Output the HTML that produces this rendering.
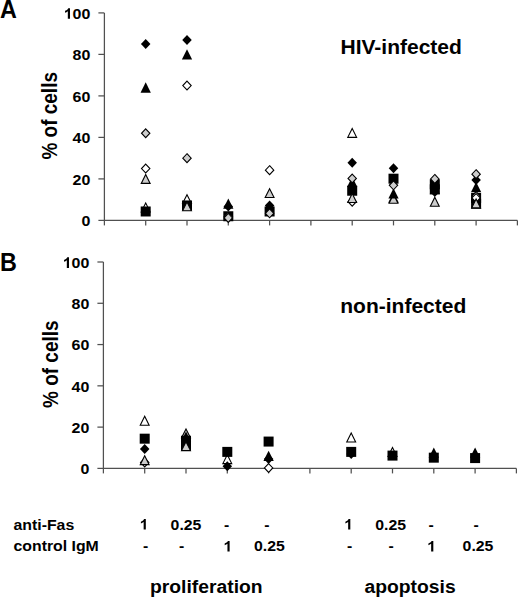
<!DOCTYPE html>
<html><head><meta charset="utf-8"><style>
html,body{margin:0;padding:0;background:#fff;}
svg{display:block;}
text{font-family:"Liberation Sans", sans-serif;font-weight:bold;}
</style></head><body>
<svg width="520" height="600" viewBox="0 0 520 600">
<rect width="520" height="600" fill="#fff"/>
<g font-family="Liberation Sans" font-weight="bold" fill="#000">
<text transform="translate(0.1 17.8) scale(0.92 1)" font-size="25.4">A</text>
<text transform="translate(0.1 270.9) scale(0.92 1)" font-size="25.4">B</text>
<text x="340.5" y="53.5" font-size="21">HIV-infected</text>
<text x="340.3" y="312.7" font-size="21">non-infected</text>
<text transform="translate(57.3 159.6) rotate(-90) scale(1 1.12)" font-size="19">% of cells</text>
<text transform="translate(57.6 408) rotate(-90) scale(1 1.12)" font-size="19">% of cells</text>
<g font-size="14.6">
<text transform="translate(13.5 529.6) scale(1.085 1)">anti-Fas</text>
<text transform="translate(13.5 551.4) scale(1.085 1)">control IgM</text>
</g>
<g font-size="14.6" text-anchor="middle">
<path transform="translate(139.59 529.60) scale(0.00773 -0.00713)" d="M806 0H525V1059Q374 918 169 851V1106Q277 1141 404 1240Q531 1338 578 1472H806Z" fill="#000"/>
<text transform="translate(186 529.6) scale(1.085 1)">0.25</text>
<text transform="translate(226.6 529.6) scale(1.085 1)">-</text>
<text transform="translate(267 529.6) scale(1.085 1)">-</text>
<text transform="translate(145.6 551.4) scale(1.085 1)">-</text>
<text transform="translate(181.6 551.4) scale(1.085 1)">-</text>
<path transform="translate(223.39 551.40) scale(0.00773 -0.00713)" d="M806 0H525V1059Q374 918 169 851V1106Q277 1141 404 1240Q531 1338 578 1472H806Z" fill="#000"/>
<text transform="translate(269.4 551.4) scale(1.085 1)">0.25</text>
<path transform="translate(344.09 529.60) scale(0.00773 -0.00713)" d="M806 0H525V1059Q374 918 169 851V1106Q277 1141 404 1240Q531 1338 578 1472H806Z" fill="#000"/>
<text transform="translate(390.6 529.6) scale(1.085 1)">0.25</text>
<text transform="translate(431.2 529.6) scale(1.085 1)">-</text>
<text transform="translate(476.2 529.6) scale(1.085 1)">-</text>
<text transform="translate(349.6 551.4) scale(1.085 1)">-</text>
<text transform="translate(391.2 551.4) scale(1.085 1)">-</text>
<path transform="translate(427.09 551.40) scale(0.00773 -0.00713)" d="M806 0H525V1059Q374 918 169 851V1106Q277 1141 404 1240Q531 1338 578 1472H806Z" fill="#000"/>
<text transform="translate(478 551.4) scale(1.085 1)">0.25</text>
</g>
<g font-size="17.6">
<text transform="translate(150 592.8) scale(1.097 1)">proliferation</text>
<text transform="translate(364.5 592.8) scale(1.097 1)">apoptosis</text>
</g>
</g>
<g stroke="#505050" stroke-width="1.25" fill="none">
<path d="M104.40 12.90V220.40H517.40"/>
<path d="M98.40 220.40H104.40"/>
<path d="M98.40 178.90H104.40"/>
<path d="M98.40 137.40H104.40"/>
<path d="M98.40 95.90H104.40"/>
<path d="M98.40 54.40H104.40"/>
<path d="M98.40 12.90H104.40"/>
<path d="M104.40 220.40V225.40"/>
<path d="M145.70 220.40V225.40"/>
<path d="M187.00 220.40V225.40"/>
<path d="M228.30 220.40V225.40"/>
<path d="M269.60 220.40V225.40"/>
<path d="M310.90 220.40V225.40"/>
<path d="M352.20 220.40V225.40"/>
<path d="M393.50 220.40V225.40"/>
<path d="M434.80 220.40V225.40"/>
<path d="M476.10 220.40V225.40"/>
<path d="M517.40 220.40V225.40"/>
</g>
<g font-family="Liberation Sans" font-weight="bold" font-size="14.7" text-anchor="end" fill="#000">
<text transform="translate(90.40 226.30) scale(1.088 1)">0</text>
<text transform="translate(90.40 184.80) scale(1.088 1)">20</text>
<text transform="translate(90.40 143.30) scale(1.088 1)">40</text>
<text transform="translate(90.40 101.80) scale(1.088 1)">60</text>
<text transform="translate(90.40 60.30) scale(1.088 1)">80</text>
<text transform="translate(90.40 18.80) scale(1.088 1)">00</text>
<path transform="translate(63.72 18.80) scale(0.00781 -0.00718)" d="M806 0H525V1059Q374 918 169 851V1106Q277 1141 404 1240Q531 1338 578 1472H806Z" fill="#000"/>
</g>
<path d="M145.70 202.96L150.13 211.83L141.26 211.83Z" fill="#fff" stroke="#000" stroke-width="1.1"/>
<path d="M145.70 39.02L150.45 44.02L145.70 49.02L140.95 44.02Z" fill="#000"/>
<rect x="140.70" y="206.48" width="10.00" height="10.00" fill="#000"/>
<path d="M145.70 82.35L150.85 92.65L140.55 92.65Z" fill="#000"/>
<path d="M145.70 164.08L149.90 168.53L145.70 172.97L141.50 168.53Z" fill="#fff" stroke="#000" stroke-width="1.1"/>
<path d="M145.70 128.80L149.90 133.25L145.70 137.70L141.50 133.25Z" fill="#cdcdcd" stroke="#000" stroke-width="1.1"/>
<path d="M145.70 174.53L150.13 183.40L141.26 183.40Z" fill="#cdcdcd" stroke="#000" stroke-width="1.1"/>
<path d="M187.00 194.66L191.44 203.53L182.56 203.53Z" fill="#fff" stroke="#000" stroke-width="1.1"/>
<path d="M187.00 34.88L191.75 39.88L187.00 44.88L182.25 39.88Z" fill="#000"/>
<rect x="182.00" y="200.46" width="10.00" height="10.00" fill="#000"/>
<path d="M187.00 49.15L192.15 59.45L181.85 59.45Z" fill="#000"/>
<path d="M187.00 81.08L191.20 85.53L187.00 89.98L182.80 85.53Z" fill="#fff" stroke="#000" stroke-width="1.1"/>
<path d="M187.00 153.70L191.20 158.15L187.00 162.60L182.80 158.15Z" fill="#cdcdcd" stroke="#000" stroke-width="1.1"/>
<path d="M187.00 201.92L191.44 210.79L182.56 210.79Z" fill="#cdcdcd" stroke="#000" stroke-width="1.1"/>
<path d="M228.30 201.50L233.05 206.50L228.30 211.50L223.55 206.50Z" fill="#000"/>
<rect x="223.30" y="211.25" width="10.00" height="10.00" fill="#000"/>
<path d="M228.30 198.55L233.45 208.85L223.15 208.85Z" fill="#000"/>
<path d="M228.30 212.22L232.50 216.66L228.30 221.11L224.10 216.66Z" fill="#fff" stroke="#000" stroke-width="1.1"/>
<path d="M228.30 213.46L232.50 217.91L228.30 222.36L224.10 217.91Z" fill="#cdcdcd" stroke="#000" stroke-width="1.1"/>
<path d="M269.60 200.46L274.35 205.46L269.60 210.46L264.85 205.46Z" fill="#000"/>
<rect x="264.60" y="206.48" width="10.00" height="10.00" fill="#000"/>
<path d="M269.60 165.74L273.80 170.19L269.60 174.63L265.40 170.19Z" fill="#fff" stroke="#000" stroke-width="1.1"/>
<path d="M269.60 208.90L273.80 213.34L269.60 217.79L265.40 213.34Z" fill="#cdcdcd" stroke="#000" stroke-width="1.1"/>
<path d="M269.60 188.64L274.04 197.51L265.17 197.51Z" fill="#cdcdcd" stroke="#000" stroke-width="1.1"/>
<path d="M352.20 128.46L356.63 137.33L347.76 137.33Z" fill="#fff" stroke="#000" stroke-width="1.1"/>
<path d="M352.20 157.72L356.95 162.72L352.20 167.72L347.45 162.72Z" fill="#000"/>
<rect x="347.20" y="185.73" width="10.00" height="10.00" fill="#000"/>
<path d="M352.20 176.76L357.35 187.06L347.05 187.06Z" fill="#000"/>
<path d="M352.20 197.28L356.40 201.72L352.20 206.17L348.00 201.72Z" fill="#fff" stroke="#000" stroke-width="1.1"/>
<path d="M352.20 174.04L356.40 178.49L352.20 182.94L348.00 178.49Z" fill="#cdcdcd" stroke="#000" stroke-width="1.1"/>
<path d="M352.20 193.62L356.63 202.49L347.76 202.49Z" fill="#cdcdcd" stroke="#000" stroke-width="1.1"/>
<path d="M393.50 193.41L397.94 202.28L389.06 202.28Z" fill="#fff" stroke="#000" stroke-width="1.1"/>
<path d="M393.50 194.45L397.94 203.32L389.06 203.32Z" fill="#cdcdcd" stroke="#000" stroke-width="1.1"/>
<path d="M393.50 163.32L398.25 168.32L393.50 173.32L388.75 168.32Z" fill="#000"/>
<rect x="388.50" y="173.69" width="10.00" height="10.00" fill="#000"/>
<path d="M393.50 188.18L398.65 198.48L388.35 198.48Z" fill="#000"/>
<path d="M393.50 180.88L397.70 185.33L393.50 189.78L389.30 185.33Z" fill="#cdcdcd" stroke="#000" stroke-width="1.1"/>
<path d="M434.80 186.97L439.55 191.97L434.80 196.97L430.05 191.97Z" fill="#000"/>
<rect x="429.80" y="179.30" width="10.00" height="10.00" fill="#000"/>
<rect x="429.80" y="184.28" width="10.00" height="10.00" fill="#000"/>
<path d="M434.80 184.03L439.95 194.33L429.65 194.33Z" fill="#000"/>
<path d="M434.80 174.45L439.00 178.90L434.80 183.35L430.60 178.90Z" fill="#cdcdcd" stroke="#000" stroke-width="1.1"/>
<path d="M434.80 197.35L439.23 206.22L430.36 206.22Z" fill="#cdcdcd" stroke="#000" stroke-width="1.1"/>
<path d="M476.10 174.94L480.85 179.94L476.10 184.94L471.35 179.94Z" fill="#000"/>
<rect x="471.10" y="192.99" width="10.00" height="10.00" fill="#000"/>
<rect x="471.10" y="198.80" width="10.00" height="10.00" fill="#000"/>
<path d="M476.10 181.95L481.25 192.25L470.95 192.25Z" fill="#000"/>
<path d="M476.10 191.67L480.30 196.12L476.10 200.57L471.90 196.12Z" fill="#fff" stroke="#000" stroke-width="1.1"/>
<path d="M476.10 193.54L480.30 197.99L476.10 202.44L471.90 197.99Z" fill="#fff" stroke="#000" stroke-width="1.1"/>
<path d="M476.10 169.68L480.30 174.13L476.10 178.58L471.90 174.13Z" fill="#cdcdcd" stroke="#000" stroke-width="1.1"/>
<path d="M476.10 199.01L480.54 207.88L471.67 207.88Z" fill="#cdcdcd" stroke="#000" stroke-width="1.1"/>
<g stroke="#505050" stroke-width="1.25" fill="none">
<path d="M103.40 262.00V468.40H516.40"/>
<path d="M97.40 468.40H103.40"/>
<path d="M97.40 427.12H103.40"/>
<path d="M97.40 385.84H103.40"/>
<path d="M97.40 344.56H103.40"/>
<path d="M97.40 303.28H103.40"/>
<path d="M97.40 262.00H103.40"/>
<path d="M103.40 468.40V473.40"/>
<path d="M144.70 468.40V473.40"/>
<path d="M186.00 468.40V473.40"/>
<path d="M227.30 468.40V473.40"/>
<path d="M268.60 468.40V473.40"/>
<path d="M309.90 468.40V473.40"/>
<path d="M351.20 468.40V473.40"/>
<path d="M392.50 468.40V473.40"/>
<path d="M433.80 468.40V473.40"/>
<path d="M475.10 468.40V473.40"/>
<path d="M516.40 468.40V473.40"/>
</g>
<g font-family="Liberation Sans" font-weight="bold" font-size="14.7" text-anchor="end" fill="#000">
<text transform="translate(89.40 474.30) scale(1.088 1)">0</text>
<text transform="translate(89.40 433.02) scale(1.088 1)">20</text>
<text transform="translate(89.40 391.74) scale(1.088 1)">40</text>
<text transform="translate(89.40 350.46) scale(1.088 1)">60</text>
<text transform="translate(89.40 309.18) scale(1.088 1)">80</text>
<text transform="translate(89.40 267.90) scale(1.088 1)">00</text>
<path transform="translate(62.72 267.90) scale(0.00781 -0.00718)" d="M806 0H525V1059Q374 918 169 851V1106Q277 1141 404 1240Q531 1338 578 1472H806Z" fill="#000"/>
</g>
<path d="M144.70 416.35L149.13 425.22L140.26 425.22Z" fill="#fff" stroke="#000" stroke-width="1.1"/>
<path d="M144.70 444.00L149.45 449.00L144.70 454.00L139.95 449.00Z" fill="#000"/>
<rect x="139.70" y="433.68" width="10.00" height="10.00" fill="#000"/>
<path d="M144.70 457.96L148.90 462.41L144.70 466.86L140.50 462.41Z" fill="#fff" stroke="#000" stroke-width="1.1"/>
<path d="M144.70 455.77L149.13 464.64L140.26 464.64Z" fill="#cdcdcd" stroke="#000" stroke-width="1.1"/>
<path d="M186.00 428.94L190.44 437.81L181.56 437.81Z" fill="#cdcdcd" stroke="#000" stroke-width="1.1"/>
<rect x="181.00" y="435.74" width="10.00" height="10.00" fill="#000"/>
<rect x="181.00" y="440.70" width="10.00" height="10.00" fill="#000"/>
<path d="M186.00 431.57L191.15 441.87L180.85 441.87Z" fill="#000"/>
<path d="M186.00 441.74L190.44 450.61L181.56 450.61Z" fill="#cdcdcd" stroke="#000" stroke-width="1.1"/>
<path d="M227.30 454.74L231.74 463.61L222.87 463.61Z" fill="#fff" stroke="#000" stroke-width="1.1"/>
<path d="M227.30 461.13L232.05 466.13L227.30 471.13L222.55 466.13Z" fill="#000"/>
<rect x="222.30" y="446.89" width="10.00" height="10.00" fill="#000"/>
<path d="M268.60 454.11L273.35 459.11L268.60 464.11L263.85 459.11Z" fill="#000"/>
<rect x="263.60" y="436.57" width="10.00" height="10.00" fill="#000"/>
<path d="M268.60 450.77L273.75 461.07L263.45 461.07Z" fill="#000"/>
<path d="M268.60 463.54L272.80 467.99L268.60 472.44L264.40 467.99Z" fill="#fff" stroke="#000" stroke-width="1.1"/>
<path d="M351.20 433.07L355.63 441.94L346.76 441.94Z" fill="#fff" stroke="#000" stroke-width="1.1"/>
<path d="M351.20 448.95L355.95 453.95L351.20 458.95L346.45 453.95Z" fill="#000"/>
<rect x="346.20" y="446.89" width="10.00" height="10.00" fill="#000"/>
<path d="M392.50 447.52L396.94 456.39L388.06 456.39Z" fill="#fff" stroke="#000" stroke-width="1.1"/>
<rect x="387.50" y="450.60" width="10.00" height="10.00" fill="#000"/>
<rect x="428.80" y="452.67" width="10.00" height="10.00" fill="#000"/>
<path d="M433.80 447.46L438.95 457.76L428.65 457.76Z" fill="#000"/>
<rect x="470.10" y="453.08" width="10.00" height="10.00" fill="#000"/>
<path d="M475.10 447.46L480.25 457.76L469.95 457.76Z" fill="#000"/>
</svg>
</body></html>
